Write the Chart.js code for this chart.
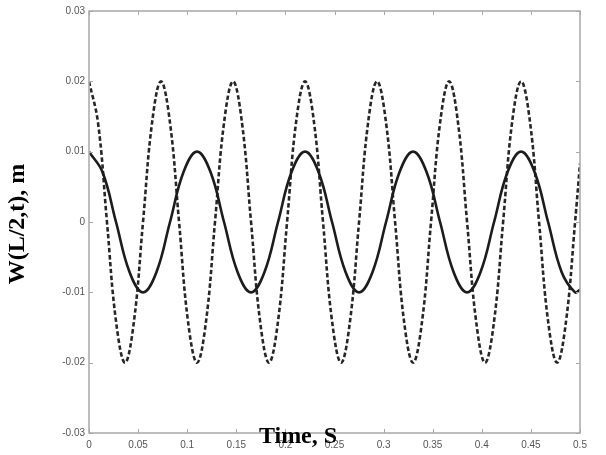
<!DOCTYPE html>
<html>
<head>
<meta charset="utf-8">
<script src="https://cdn.jsdelivr.net/npm/chart.js@4.4.0/dist/chart.umd.min.js"></script>
<style>
html,body{margin:0;padding:0;background:#fff;}
#wrap{width:606px;height:455px;position:relative;}
</style>
</head>
<body>
<div id="wrap"><canvas id="c" width="606" height="455"></canvas></div>
<script>
// Tick values
const xTicks = [0, 0.05, 0.1, 0.15, 0.2, 0.25, 0.3, 0.35, 0.4, 0.45, 0.5];
const yTicks = [-0.03, -0.02, -0.01, 0, 0.01, 0.02, 0.03];
const xTitle = 'Time, S';
const yTitle = 'W(L/2,t), m';

// Solid curve
const tSolid = [0, 0.01375, 0.0275, 0.04125, 0.055, 0.06875, 0.0825, 0.09625,
  0.11, 0.12375, 0.1375, 0.15125, 0.165, 0.17875, 0.1925, 0.20625,
  0.22, 0.23375, 0.2475, 0.26125, 0.275, 0.28875, 0.3025, 0.31625,
  0.33, 0.34375, 0.3575, 0.37125, 0.385, 0.39875, 0.4125, 0.42625,
  0.44, 0.45375, 0.4675, 0.48125, 0.495, 0.5];
const wSolid = [0.01, 0.0071, 0, -0.0071, -0.01, -0.0071, 0, 0.0071,
  0.01, 0.0071, 0, -0.0071, -0.01, -0.0071, 0, 0.0071,
  0.01, 0.0071, 0, -0.0071, -0.01, -0.0071, 0, 0.0071,
  0.01, 0.0071, 0, -0.0071, -0.01, -0.0071, 0, 0.0071,
  0.01, 0.0071, 0, -0.0071, -0.01, -0.0096];

// Dashed curve
const tDashed = [0, 0.0092, 0.0183, 0.0275, 0.0367, 0.0458, 0.055, 0.0642,
  0.0733, 0.0825, 0.0917, 0.1008, 0.11, 0.1192, 0.1283, 0.1375,
  0.1467, 0.1558, 0.165, 0.1742, 0.1833, 0.1925, 0.2017, 0.2108,
  0.22, 0.2292, 0.2383, 0.2475, 0.2567, 0.2658, 0.275, 0.2842,
  0.2933, 0.3025, 0.3117, 0.3208, 0.33, 0.3392, 0.3483, 0.3575,
  0.3667, 0.3758, 0.385, 0.3942, 0.4033, 0.4125, 0.4217, 0.4308,
  0.44, 0.4492, 0.4583, 0.4675, 0.4767, 0.4858, 0.495, 0.5];
const wDashed = [0.02, 0.0141, 0, -0.0141, -0.02, -0.0141, 0, 0.0141,
  0.02, 0.0141, 0, -0.0141, -0.02, -0.0141, 0, 0.0141,
  0.02, 0.0141, 0, -0.0141, -0.02, -0.0141, 0, 0.0141,
  0.02, 0.0141, 0, -0.0141, -0.02, -0.0141, 0, 0.0141,
  0.02, 0.0141, 0, -0.0141, -0.02, -0.0141, 0, 0.0141,
  0.02, 0.0141, 0, -0.0141, -0.02, -0.0141, 0, 0.0141,
  0.02, 0.0141, 0, -0.0141, -0.02, -0.0141, 0, 0.0083];

const toPts = (xs, ys) => xs.map((x, i) => ({x: x, y: ys[i]}));

const fmt = v => String(Number(v.toFixed(3)));

const frame = {
  id: 'frame',
  afterDatasetsDraw(chart) {
    const {ctx, chartArea: a, scales} = chart;
    ctx.save();
    ctx.strokeStyle = '#a8a8a8';
    ctx.lineWidth = 1.5;
    ctx.strokeRect(a.left, a.top, a.right - a.left, a.bottom - a.top);
    ctx.lineWidth = 1;
    ctx.beginPath();
    const L = 4;
    xTicks.forEach(v => {
      const px = Math.round(scales.x.getPixelForValue(v)) + 0.5;
      ctx.moveTo(px, a.bottom); ctx.lineTo(px, a.bottom - L);
      ctx.moveTo(px, a.top); ctx.lineTo(px, a.top + L);
    });
    yTicks.forEach(v => {
      const py = Math.round(scales.y.getPixelForValue(v)) + 0.5;
      ctx.moveTo(a.left, py); ctx.lineTo(a.left + L, py);
      ctx.moveTo(a.right, py); ctx.lineTo(a.right - L, py);
    });
    ctx.stroke();
    // titles
    ctx.fillStyle = '#000';
    ctx.font = 'bold 24px "Liberation Serif", "Times New Roman", serif';
    ctx.textAlign = 'center';
    ctx.textBaseline = 'alphabetic';
    ctx.fillText(xTitle, 298, 443);
    ctx.translate(24, 224);
    ctx.rotate(-Math.PI / 2);
    ctx.fillText(yTitle, 0, 0);
    ctx.restore();
  }
};

new Chart(document.getElementById('c'), {
  type: 'scatter',
  data: {
    datasets: [
      {
        label: 'solid',
        data: toPts(tSolid, wSolid),
        showLine: true,
        borderColor: '#1c1c1c',
        borderWidth: 2.6,
        pointRadius: 0,
        tension: 0.4,
        fill: false
      },
      {
        label: 'dashed',
        data: toPts(tDashed, wDashed),
        showLine: true,
        borderColor: '#262626',
        borderWidth: 2.6,
        borderDash: [4.5, 2.5],
        pointRadius: 0,
        tension: 0.4,
        fill: false
      }
    ]
  },
  options: {
    responsive: false,
    animation: false,
    devicePixelRatio: 1,
    layout: {padding: {left: 0, right: 26, top: 11, bottom: 0}},
    plugins: {legend: {display: false}, tooltip: {enabled: false}},
    scales: {
      x: {
        type: 'linear',
        min: 0, max: 0.5,
        afterBuildTicks: s => { s.ticks = xTicks.map(v => ({value: v})); },
        afterFit: s => { s.height = 22; },
        grid: {display: false, drawTicks: false},
        border: {display: false},
        ticks: {
          callback: v => fmt(v),
          color: '#555555',
          font: {family: '"Liberation Sans", Arial, sans-serif', size: 10},
          padding: 6,
          maxRotation: 0,
          autoSkip: false
        }
      },
      y: {
        type: 'linear',
        min: -0.03, max: 0.03,
        afterBuildTicks: s => { s.ticks = yTicks.map(v => ({value: v})); },
        afterFit: s => { s.width = 89; },
        grid: {display: false, drawTicks: false},
        border: {display: false},
        ticks: {
          callback: v => fmt(v),
          color: '#555555',
          font: {family: '"Liberation Sans", Arial, sans-serif', size: 10},
          padding: 4,
          autoSkip: false
        }
      }
    }
  },
  plugins: [frame]
});
</script>
</body>
</html>
